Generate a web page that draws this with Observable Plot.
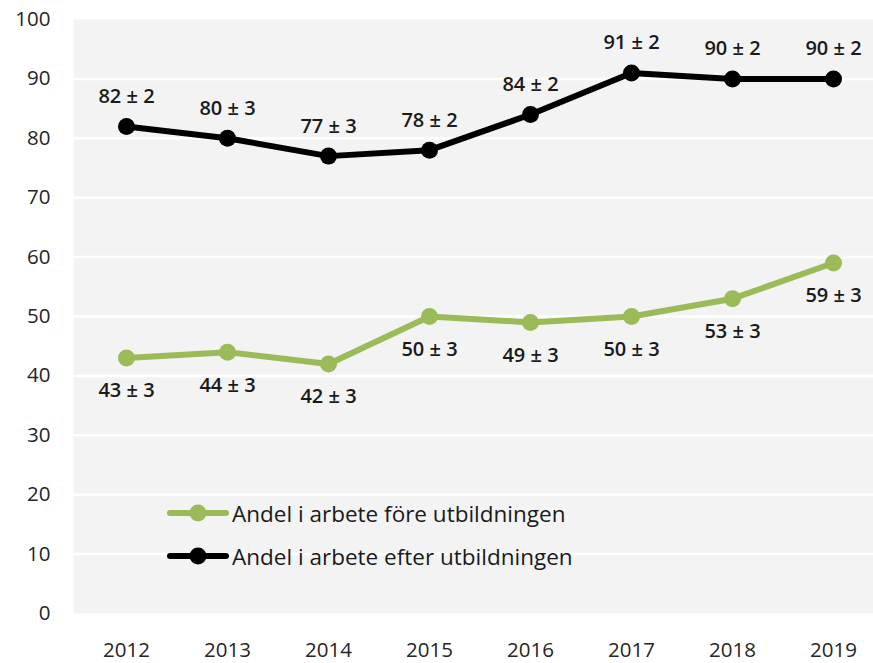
<!DOCTYPE html>
<html>
<head>
<meta charset="utf-8">
<script src="https://cdn.jsdelivr.net/npm/d3@7"></script>
<script src="https://cdn.jsdelivr.net/npm/@observablehq/plot@0.6"></script>
<style>
  html, body { margin: 0; padding: 0; background: #fff; }
  #wrap { position: relative; width: 873px; height: 663px; font-family: "Open Sans", sans-serif; }
  .leg { position: absolute; left: 167px; display: flex; align-items: center; height: 30px; font-size: 22.5px; color: #1a1a1a; white-space: nowrap; }
  .leg svg { display: block; margin-right: 3px; }
</style>
</head>
<body>
<div id="wrap"></div>
<script>
const years = [2012, 2013, 2014, 2015, 2016, 2017, 2018, 2019];
const before = [43, 44, 42, 50, 49, 50, 53, 59];
const beforeErr = [3, 3, 3, 3, 3, 3, 3, 3];
const after = [82, 80, 77, 78, 84, 91, 90, 90];
const afterErr = [2, 3, 3, 2, 2, 2, 2, 2];
const seriesNames = ["Andel i arbete före utbildningen", "Andel i arbete efter utbildningen"];
const seriesColors = ["#9bbb59", "#000000"];
const yTicks = [0, 10, 20, 30, 40, 50, 60, 70, 80, 90, 100];

const beforeData = years.map((y, i) => ({year: y, value: before[i], label: `${before[i]} ± ${beforeErr[i]}`}));
const afterData = years.map((y, i) => ({year: y, value: after[i], label: `${after[i]} ± ${afterErr[i]}`}));

const chart = Plot.plot({
  width: 873,
  height: 663,
  marginTop: 19,
  marginBottom: 50,
  marginLeft: 73,
  marginRight: 0,
  style: {fontFamily: "Open Sans, sans-serif", fontSize: "20.5px", color: "#262626", background: "white"},
  x: {type: "point", domain: years, range: [125, 833], padding: 0, label: null, tickSize: 0, tickPadding: 29, tickFormat: d => String(d)},
  y: {domain: [0, 100], ticks: yTicks, label: null, tickSize: 0, tickPadding: 23},
  marks: [
    Plot.frame({fill: "#f3f3f3", stroke: null}),
    Plot.gridY(yTicks.slice(1, -1), {stroke: "white", strokeOpacity: 1, strokeWidth: 2.5}),
    Plot.lineY(beforeData, {x: "year", y: "value", stroke: seriesColors[0], strokeWidth: 6}),
    Plot.dot(beforeData, {x: "year", y: "value", r: 8.5, fill: seriesColors[0]}),
    Plot.lineY(afterData, {x: "year", y: "value", stroke: seriesColors[1], strokeWidth: 6}),
    Plot.dot(afterData, {x: "year", y: "value", r: 8.5, fill: seriesColors[1]}),
    Plot.text(afterData, {x: "year", y: "value", text: "label", dy: -30, fontSize: 20, fontWeight: 600, fill: "#1a1a1a"}),
    Plot.text(beforeData, {x: "year", y: "value", text: "label", dy: 33, fontSize: 20, fontWeight: 600, fill: "#1a1a1a"})
  ]
});

const wrap = document.getElementById("wrap");
wrap.appendChild(chart);

const legTops = [498, 541];
seriesNames.forEach((name, i) => {
  const row = document.createElement("div");
  row.className = "leg";
  row.style.top = legTops[i] + "px";
  row.innerHTML = `<svg width="62" height="30"><line x1="3" y1="15" x2="59" y2="15" stroke="${seriesColors[i]}" stroke-width="6" stroke-linecap="round"/><circle cx="31" cy="15" r="8.5" fill="${seriesColors[i]}"/></svg><span>${name}</span>`;
  wrap.appendChild(row);
});
</script>
</body>
</html>
